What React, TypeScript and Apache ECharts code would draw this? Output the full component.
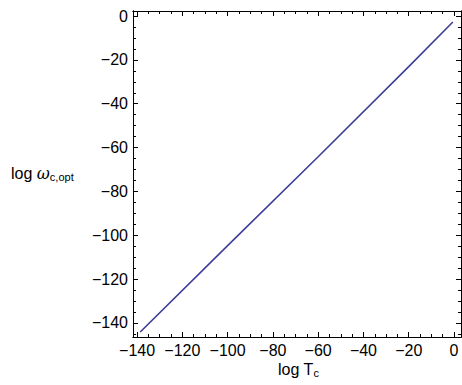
import React, { useEffect, useRef } from "react";
import * as echarts from "echarts";

const logT: number[] = [-138.6, -100, -60, -20, -0.5];
const logOmega: number[] = [-144.1, -104.7, -64.2, -23.1, -2.7];
const xMajor: number[] = [-140, -120, -100, -80, -60, -40, -20, 0];
const yMajor: number[] = [-140, -120, -100, -80, -60, -40, -20, 0];
const xMinor: number[] = [-140, -135, -130, -125, -120, -115, -110, -105, -100, -95, -90, -85, -80, -75, -70, -65, -60, -55, -50, -45, -40, -35, -30, -25, -20, -15, -10, -5, 0];
const yMinor: number[] = [-145, -140, -135, -130, -125, -120, -115, -110, -105, -100, -95, -90, -85, -80, -75, -70, -65, -60, -55, -50, -45, -40, -35, -30, -25, -20, -15, -10, -5, 0];

const X_MIN = -141.8, X_MAX = 3.1, Y_MIN = -146.4, Y_MAX = 2.3;
const FONT = "Liberation Sans, Arial, Helvetica, sans-serif";

const fmt = (v: number) => (v < 0 ? "\u2212" + Math.abs(v) : String(v));

function mkAxis(kind: "x" | "y", position: string, values: number[], len: number, labels: boolean) {
  return {
    type: "value",
    position,
    min: kind === "x" ? X_MIN : Y_MIN,
    max: kind === "x" ? X_MAX : Y_MAX,
    axisLine: { show: true, onZero: false, lineStyle: { color: "#000", width: 1 } },
    axisTick: { show: true, inside: true, length: len, customValues: values, lineStyle: { color: "#000", width: 1 } },
    axisLabel: labels
      ? { show: true, customValues: values, formatter: fmt, color: "#000", fontSize: 16, fontFamily: FONT, margin: 5 }
      : { show: false },
    splitLine: { show: false },
  };
}

export default function App() {
  const ref = useRef<HTMLDivElement>(null);
  useEffect(() => {
    const chart = echarts.init(ref.current!, undefined, { renderer: "svg" });
    chart.setOption({
      animation: false,
      backgroundColor: "#fff",
      grid: { left: 133, right: 1, top: 11, bottom: 48, containLabel: false },
      xAxis: [
        mkAxis("x", "bottom", xMajor, 5, true),
        mkAxis("x", "bottom", xMinor, 3, false),
        mkAxis("x", "top", xMajor, 5, false),
        mkAxis("x", "top", xMinor, 3, false),
      ],
      yAxis: [
        mkAxis("y", "left", yMajor, 5, true),
        mkAxis("y", "left", yMinor, 3, false),
        mkAxis("y", "right", yMajor, 5, false),
        mkAxis("y", "right", yMinor, 3, false),
      ],
      series: [
        {
          type: "line",
          xAxisIndex: 0,
          yAxisIndex: 0,
          data: logT.map((x, i) => [x, logOmega[i]]),
          showSymbol: false,
          lineStyle: { color: "#3d3d99", width: 1.6 },
        },
      ],
      graphic: [
        {
          type: "text",
          left: 11,
          top: 165,
          style: {
            text: "{a|log }{w|\u03c9}{s|c,opt}",
            rich: {
              a: { fontSize: 16, fontFamily: FONT, fill: "#000" },
              w: { fontSize: 16, fontFamily: "DejaVu Serif, serif", fontStyle: "italic", fill: "#000" },
              s: { fontSize: 11, fontFamily: FONT, fill: "#000", verticalAlign: "bottom", padding: [8, 0, 0, 0] },
            },
          },
        },
        {
          type: "text",
          left: 278,
          top: 361,
          style: {
            text: "{a|log T}{s|c}",
            rich: {
              a: { fontSize: 16, fontFamily: FONT, fill: "#000" },
              s: { fontSize: 11, fontFamily: FONT, fill: "#000", padding: [8, 0, 0, 0] },
            },
          },
        },
      ],
    });
    return () => chart.dispose();
  }, []);
  return <div ref={ref} style={{ position: "fixed", left: 0, top: 0, width: 462, height: 385 }} />;
}
